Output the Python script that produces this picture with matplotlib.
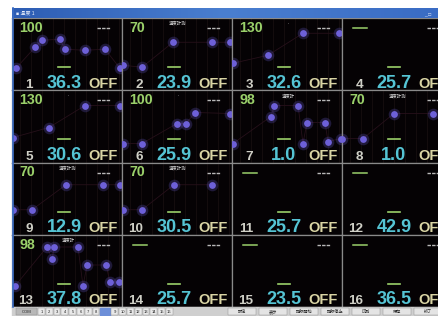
import matplotlib.pyplot as plt
import numpy as np

W, H = 438, 316
plt.rcParams['font.family'] = ['Liberation Sans', 'Noto Sans CJK JP', 'DejaVu Sans']

# channel readings, row-major 1..16
ch_no = list(range(1, 17))
readings = [36.3, 23.9, 32.6, 25.7, 30.6, 25.9, 1.0, 1.0,
            12.9, 30.5, 25.7, 42.9, 37.8, 25.7, 23.5, 36.5]
status = ["OFF"] * 16
scale_top = [100, 70, 130, None, 130, 100, 98, 70,
             70, 70, None, None, 98, None, None, None]
tags = ["", "温度計測", "'", "", "'", "'", "温度計", "温度計測",
        "温度計測", "温度計測", "", "", "温度計", "", "", ""]

# trend samples (time position, level)
trend_t = {
    1: [4, 23, 30, 48, 53, 73, 93, 108],
    2: [1, 20, 51, 90, 108],
    3: [1, 36, 71, 107],
    5: [1, 37, 73, 108],
    6: [1, 20, 55, 64, 73, 108],
    7: [1, 39, 42, 66, 71, 75, 93, 96, 109],
    8: [0, 21, 52, 91],
    9: [1, 20, 54, 91, 108],
    10: [1, 20, 52, 90],
    13: [3, 35, 40, 42, 66, 71, 75, 94, 98, 107],
}
trend_v = {
    1: [22, 43, 50, 51, 41, 40, 41, 22],
    2: [25, 23, 48, 48, 48],
    3: [27, 35, 57, 57],
    5: [25, 35, 57, 57],
    6: [19, 19, 39, 39, 50, 49],
    7: [19, 46, 57, 57, 19, 40, 40, 21, 24],
    8: [24, 24, 49, 49],
    9: [25, 25, 50, 50, 50],
    10: [25, 25, 50, 50],
    13: [21, 60, 48, 60, 60, 21, 42, 42, 25, 25],
}

toolbar_left = ["COM"] + [str(i) for i in range(1, 17)]
toolbar_btns = ["設定", "表示", "記録開始", "記録停止", "印刷", "保存", "終了"]

GREEN = '#9ad06a'
CYAN = '#55c4d4'
OFFC = '#d9d4a4'
IDXC = '#cfcfc6'
DOT = '#6d60d8'


def box(x, y, w, h):
    return [x / W, 1 - (y + h) / H, w / W, h / H]


fig = plt.figure(figsize=(W / 100, H / 100), dpi=100)
fig.patch.set_facecolor('white')

left, top = 12, 18
pw, ph = 110, 72.25

for i in range(16):
    r, c = divmod(i, 4)
    ax = fig.add_axes(box(left + c * pw, top + r * ph, pw, ph))
    ax.set_facecolor('#050204')
    ax.set_xlim(0, pw)
    ax.set_ylim(0, ph)
    ax.set_xticks([])
    ax.set_yticks([])
    for s in ax.spines.values():
        s.set_color('#8a8a8a')
        s.set_linewidth(0.9)
    n = ch_no[i]
    if n in trend_t:
        for gx in range(8, 110, 11):
            ax.axvline(gx, color='#1a1111', lw=0.5, zorder=0)
        t, v = trend_t[n], trend_v[n]
        ax.plot(t, v, color='#26101a', lw=0.6, zorder=1)
        ax.scatter(t, v, s=70, color=DOT, alpha=0.25, lw=0, zorder=2)
        ax.scatter(t, v, s=24, color=DOT, lw=0, zorder=3)
    if scale_top[i] is not None:
        ax.text(7, ph - 14, str(scale_top[i]), color=GREEN, fontsize=10.2,
                fontweight='bold', va='baseline', ha='left')
    else:
        ax.plot([11, 25], [ph - 10, ph - 10], color=GREEN, lw=1.1)
    if tags[i]:
        ax.text(56, ph - 6, tags[i], color='#d8d8d8', fontsize=3.2,
                ha='center', va='center')
    ax.plot([85, 98], [ph - 10, ph - 10], color='#b8b8b8', lw=1.0,
            dashes=(2.5, 0.8))
    ax.plot([46, 58], [ph - 49, ph - 49], color=GREEN, lw=1.2)
    ax.text(21, 2.5, str(n), color=IDXC, fontsize=9.7, fontweight='bold',
            ha='right', va='baseline')
    ax.text(52, 2.5, f"{readings[i]:.1f}", color=CYAN, fontsize=13,
            fontweight='bold', ha='center', va='baseline', clip_on=False)
    ax.text(76, 2.5, status[i], color=OFFC, fontsize=10.5, fontweight='bold',
            ha='left', va='baseline', clip_on=False)

# window chrome: title bar and toolbar
ov = fig.add_axes([0, 0, 1, 1], facecolor='none')
ov.set_xlim(0, W)
ov.set_ylim(H, 0)
ov.axis('off')
grad = np.linspace(0, 1, 256).reshape(1, -1)
ov.imshow(grad, extent=[12, W, 18, 8], cmap=plt.matplotlib.colors.LinearSegmentedColormap.from_list(
    'tb', ['#2d5db4', '#4a7fd0', '#3a6cc4']), aspect='auto', zorder=1)
ov.text(16, 13.5, "■ 温度 1", color='#e8eefc', fontsize=3.6, va='center', zorder=2)
ov.text(424, 13.5, "_ □", color='#e8eefc', fontsize=3.6, va='center', zorder=2)
ov.plot([12.5, 12.5], [8, 307], color='#3a6cc4', lw=1.2, zorder=2)

ov.add_patch(plt.Rectangle((12, 307), W - 12, 9, color='#cfcfcf', zorder=1))
bx = 16
for k, lab in enumerate(toolbar_left):
    bw = 22 if k == 0 else 7.8
    fc = '#b8b8b8' if k == 0 else '#e9e9e9'
    if k == 9:
        ov.add_patch(plt.Rectangle((bx, 307.5), 10, 8, color='#6d8fd8', zorder=2))
        bx += 11
    ov.add_patch(plt.Rectangle((bx, 308), bw - 1, 7, facecolor=fc,
                               edgecolor='#8a8a8a', lw=0.3, zorder=2))
    ov.text(bx + (bw - 1) / 2, 311.7, lab, fontsize=3, color='#222222',
            ha='center', va='center', zorder=3)
    bx += bw
bx = 228
for lab in toolbar_btns:
    ov.add_patch(plt.Rectangle((bx, 308), 28, 7, facecolor='#e4e4e4',
                               edgecolor='#8a8a8a', lw=0.3, zorder=2))
    ov.text(bx + 14, 311.7, lab, fontsize=3, color='#222222',
            ha='center', va='center', zorder=3)
    bx += 31

fig.savefig('out.png', dpi=100, facecolor='white')
